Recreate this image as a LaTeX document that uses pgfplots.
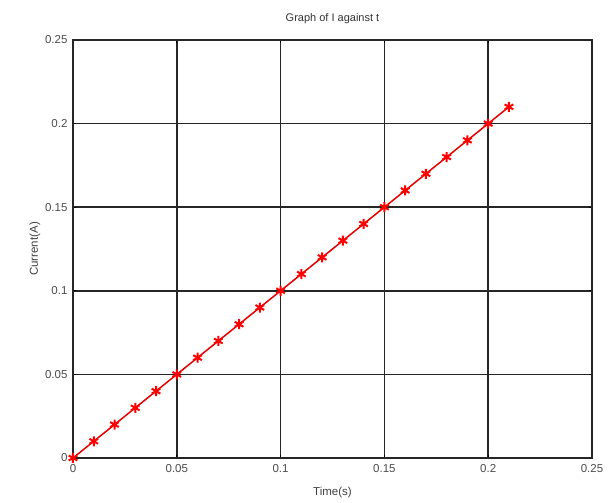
\documentclass[border=0pt]{standalone}
\usepackage{fontspec}
\setmainfont{Liberation Sans}
\usepackage{pgfplots}
\pgfplotsset{compat=1.18}
\begin{document}
\begin{tikzpicture}
\begin{axis}[
  name=ax,
  scale only axis,
  width=519pt, height=418pt,
  xmin=0, xmax=0.25, ymin=0, ymax=0.25,
  xtick={0,0.05,0.1,0.15,0.2,0.25},
  ytick={0,0.05,0.1,0.15,0.2,0.25},
  xticklabels={0,0.05,0.1,0.15,0.2,0.25},
  yticklabels={0,0.05,0.1,0.15,0.2,0.25},
  grid=major,
  major grid style={black!85, line width=1.6pt},
  axis line style={black!85, line width=1.6pt},
  tick style={black, line width=1pt},
  tick align=inside,
  major tick length=3pt,
  ticklabel style={font=\fontsize{11.5}{13}\selectfont, text=black!70},
  xticklabel style={yshift=-3pt},
  yticklabel style={xshift=-2pt},
  title={Graph of I against t},
  title style={font=\fontsize{11}{13}\selectfont, text=black!80, yshift=7pt},
  xlabel={Time(s)},
  ylabel={Current(A)},
  label style={font=\fontsize{11.5}{13}\selectfont, text=black!75},
  xlabel style={yshift=-8pt},
  ylabel style={yshift=-2pt},
  clip=false,
]
\addplot[red!90!black, line width=1.5pt, mark=asterisk, mark size=5pt, mark options={red, line width=2pt}] coordinates {
(0,0) (0.01,0.01) (0.02,0.02) (0.03,0.03) (0.04,0.04) (0.05,0.05)
(0.06,0.06) (0.07,0.07) (0.08,0.08) (0.09,0.09) (0.10,0.10)
(0.11,0.11) (0.12,0.12) (0.13,0.13) (0.14,0.14) (0.15,0.15)
(0.16,0.16) (0.17,0.17) (0.18,0.18) (0.19,0.19) (0.20,0.20) (0.21,0.21)
};
\end{axis}
\useasboundingbox ([shift={(-73pt,-45pt)}]ax.south west) rectangle ([shift={(16pt,40pt)}]ax.north east);
\end{tikzpicture}
\end{document}
